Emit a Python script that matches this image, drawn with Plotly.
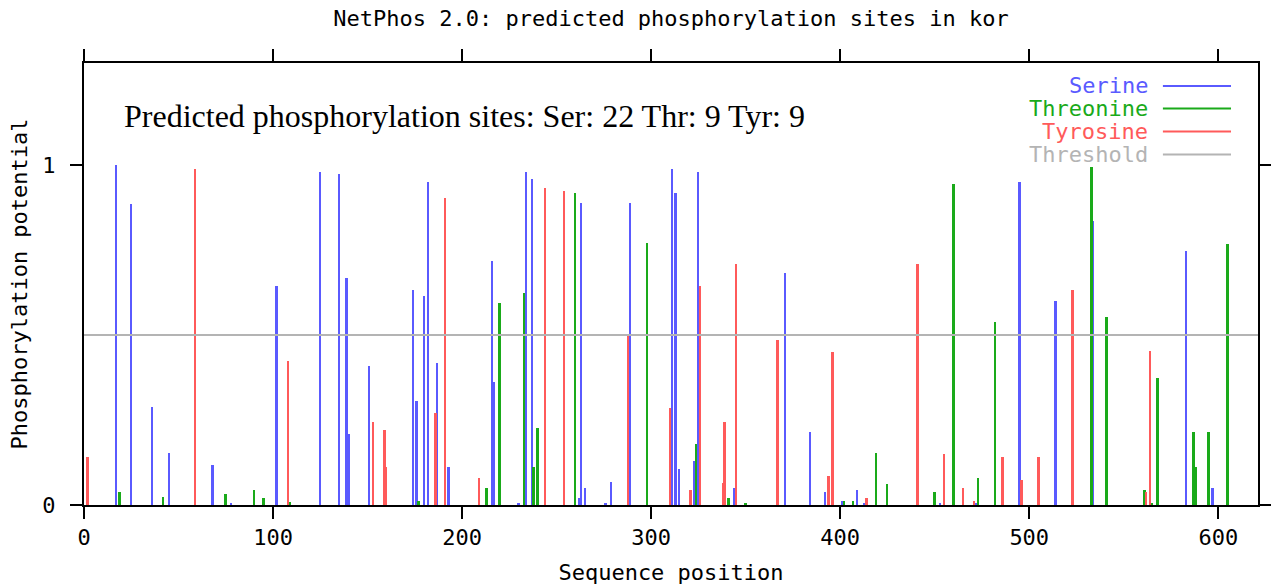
import plotly.graph_objects as go

# NetPhos 2.0 scores per residue (sequence position -> phosphorylation potential)
ser_pos = [17, 25, 36, 45, 68, 78, 102, 125, 135, 139, 140, 151, 174, 176, 180, 182,
           187, 193, 216, 217, 230, 234, 237, 262, 263, 265, 276, 279, 289, 311, 313,
           315, 323, 325, 344, 371, 384, 392, 401, 409, 413, 453, 472, 495, 514, 534,
           583, 597]
ser_val = [1.0, 0.884, 0.289, 0.154, 0.118, 0.007, 0.644, 0.98, 0.975, 0.669, 0.209,
           0.41, 0.632, 0.307, 0.615, 0.951, 0.417, 0.111, 0.718, 0.363, 0.007, 0.98,
           0.958, 0.02, 0.889, 0.049, 0.007, 0.069, 0.889, 0.987, 0.919, 0.105, 0.129,
           0.98, 0.049, 0.681, 0.216, 0.037, 0.013, 0.044, 0.007, 0.007, 0.007, 0.951,
           0.601, 0.834, 0.748, 0.049]

thr_pos = [19, 42, 75, 90, 95, 109, 177, 213, 220, 233, 238, 240, 260, 298, 324, 341,
           350, 402, 407, 419, 425, 450, 460, 473, 482, 533, 541, 561, 565, 568, 587,
           588, 595, 605]
thr_val = [0.039, 0.024, 0.031, 0.044, 0.02, 0.008, 0.013, 0.049, 0.595, 0.625, 0.111,
           0.227, 0.919, 0.771, 0.178, 0.02, 0.007, 0.013, 0.013, 0.154, 0.062, 0.037,
           0.944, 0.08, 0.539, 0.993, 0.552, 0.044, 0.007, 0.375, 0.216, 0.111, 0.216,
           0.768]

tyr_pos = [2, 59, 108, 153, 159, 160, 186, 191, 209, 244, 254, 288, 310, 321, 326, 338,
           339, 345, 367, 394, 396, 414, 441, 455, 465, 471, 486, 496, 505, 523, 562, 564]
tyr_val = [0.142, 0.987, 0.424, 0.245, 0.22, 0.111, 0.27, 0.902, 0.08, 0.931, 0.925,
           0.502, 0.284, 0.044, 0.644, 0.064, 0.245, 0.709, 0.485, 0.086, 0.449, 0.02,
           0.709, 0.149, 0.049, 0.013, 0.142, 0.074, 0.142, 0.632, 0.037, 0.454]

threshold = 0.5
seq_length = 621
x_ticks = [0, 100, 200, 300, 400, 500, 600]
y_ticks = [0, 1]

series_names = ["Serine", "Threonine", "Tyrosine", "Threshold"]
series_colors = ["#5a5aff", "#1aaa1a", "#ff5a5a", "#b4b4b4"]

MONO = "DejaVu Sans Mono"
FS = 22

fig = go.Figure()
for xs, ys, name, color in zip([ser_pos, thr_pos, tyr_pos], [ser_val, thr_val, tyr_val],
                               series_names[:3], series_colors[:3]):
    fig.add_trace(go.Bar(x=xs, y=ys, name=name, width=1.0,
                         marker=dict(color=color, line=dict(width=0)),
                         showlegend=False))

# threshold line across the full plot width
fig.add_shape(type="line", xref="paper", x0=0, x1=1, yref="y", y0=threshold, y1=threshold,
              line=dict(color=series_colors[3], width=2), layer="above")

# legend: right-aligned labels followed by a short line sample
legend_y = [0.948, 0.897, 0.845, 0.793]
for name, color, ly in zip(series_names, series_colors, legend_y):
    fig.add_annotation(xref="paper", yref="paper", x=0.908, y=ly, text=name,
                       showarrow=False, xanchor="right", yanchor="middle",
                       font=dict(family=MONO, size=FS, color=color))
    fig.add_shape(type="line", xref="paper", yref="paper", x0=0.919, x1=0.977,
                  y0=ly, y1=ly, line=dict(color=color, width=2))

fig.add_annotation(xref="paper", yref="paper", x=0.032, y=0.88,
                   text="Predicted phosphorylation sites: Ser: 22 Thr: 9 Tyr: 9",
                   showarrow=False, xanchor="left", yanchor="middle",
                   font=dict(family="Liberation Serif", size=32, color="black"))

axis_common = dict(ticks="outside", ticklen=12, tickwidth=2, tickcolor="black",
                   showline=True, linecolor="black", linewidth=2, mirror="ticks",
                   showgrid=False, zeroline=False, automargin=False,
                   tickfont=dict(family=MONO, size=FS, color="black"))

fig.update_layout(
    width=1271, height=585,
    margin=dict(l=84, r=13, t=63, b=80),
    paper_bgcolor="white", plot_bgcolor="white",
    barmode="overlay", bargap=0,
    title=dict(text="NetPhos 2.0: predicted phosphorylation sites in kor",
               x=0.5, xref="paper", y=1 - 18 / 585, yref="container",
               xanchor="center", yanchor="middle",
               font=dict(family=MONO, size=FS, color="black")),
    xaxis=dict(range=[0, seq_length], tickvals=x_ticks,
               title=dict(text="Sequence position", standoff=18,
                          font=dict(family=MONO, size=FS, color="black")),
               **axis_common),
    yaxis=dict(range=[0, 1.3], tickvals=y_ticks, ticklabelstandoff=10,
               title=dict(text="Phosphorylation potential", standoff=9,
                          font=dict(family=MONO, size=FS, color="black")),
               **axis_common),
)

fig.write_html("out.html")
